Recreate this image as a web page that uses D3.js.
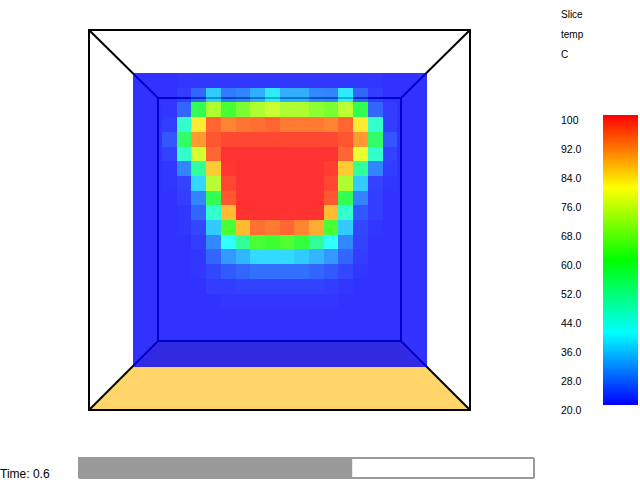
<!DOCTYPE html>
<html>
<head>
<meta charset="utf-8">
<title>Slice temp</title>
<script src="https://cdnjs.cloudflare.com/ajax/libs/d3/7.8.5/d3.min.js"></script>
<style>
html, body { margin: 0; padding: 0; background: #fff; overflow: hidden; }
svg { display: block; }
text { font-family: "Liberation Sans", sans-serif; fill: #000; }
</style>
</head>
<body>
<svg id="chart" width="640" height="480"></svg>
<script>
// slice values, one row per line, top to bottom
var sliceValues = [
  [20,20,20,20.4,20.5,20.5,20.5,20.5,20.5,20.5,20.5,20.5,20.5,20.5,20.5,20.5,20.4,20,20,20],
  [20,20,20,21,25,35,27,28,32,38,32,32,28.5,28,38,25,21,20,20,20],
  [20,20,20.5,25,57,72,62,67,72,75,72,72,69,67,73.5,57,25,21,20,20],
  [20,20,21,45,82,95,92,93.5,94,95,93,93,93,92,95,82,45,21,20,20],
  [20,20,23.5,55,90,96.5,98,98,98,98,98,98,98,98,96.5,90,55,23.5,20,20],
  [20,20,21.5,45,76,95,100,100,100,100,100,100,100,100,95,78,45,21.5,20,20],
  [20,20,20.5,28,50,85,99.5,100,100,100,100,100,100,99,85,50,28,21,20,20],
  [20,20,20.5,21.5,36,73,98,100,100,100,100,100,100,98,72,35,21.5,20.5,20,20],
  [20,20,20,21,28,57,96.5,100,100,100,100,100,100,96.5,57,28,21,20,20,20],
  [20,20,20,20.5,25,45,86.5,100,100,100,100,100,100,86.5,45,23.5,21,20,20,20],
  [20,20,20,20.5,22,35,62,86.5,94,93,95,92,88,62,35,22,20.5,20,20,20],
  [20,20,20,20,21,28.5,40,50,62,61,63,59,50,40,28.5,21.5,20,20,20,20],
  [20,20,20,20,20.5,25,30,33,36.5,36.5,36.5,35,33,30,25,21,20,20,20,20],
  [20,20,20,20,20.3,22,24,25,26,26,26,26,25,24,22,20.5,20,20,20,20],
  [20,20,20,20,20,21,21,21.5,21.5,21.5,21.5,21.5,21.5,21,20.5,20,20,20,20,20],
  [20,20,20,20,20,20,20.3,20.3,20.3,20.3,20.3,20.3,20.3,20.3,20,20,20,20,20,20],
  [20,20,20,20,20,20,20,20,20,20,20,20,20,20,20,20,20,20,20,20],
  [20,20,20,20,20,20,20,20,20,20,20,20,20,20,20,20,20,20,20,20],
  [20,20,20,20,20,20,20,20,20,20,20,20,20,20,20,20,20,20,20,20],
  [20,20,20,20,20,20,20,20,20,20,20,20,20,20,20,20,20,20,20,20]
];
var legendTicks = [100, 92, 84, 76, 68, 60, 52, 44, 36, 28, 20];
var legendTickLabels = ["100", "92.0", "84.0", "76.0", "68.0", "60.0", "52.0", "44.0", "36.0", "28.0", "20.0"];
var colorStops = [20, 40, 60, 80, 100];
var colorNames = ["#0000ff", "#00ffff", "#00ff00", "#ffff00", "#ff0000"];
var titleLines = ["Slice", "temp", "C"];
var timeValue = 0.6;

var svg = d3.select("#chart");

var color = d3.scaleLinear().domain(colorStops).range(colorNames);
var rowIdx = d3.range(sliceValues.length);
var colIdx = d3.range(sliceValues[0].length);
var x = d3.scaleBand().domain(colIdx).range([132.6, 426.6]);
var y = d3.scaleBand().domain(rowIdx).range([73, 367]);

// box: floor and back edges sit behind the slice
svg.append("polygon")
  .attr("points", "89,410 470,410 401,341 158,341")
  .attr("fill", "#ffd56b");

var back = svg.append("g").attr("stroke", "#000").attr("stroke-width", 2).attr("fill", "none");
back.append("rect").attr("x", 158).attr("y", 98).attr("width", 243).attr("height", 243);
[[89, 30, 158, 98], [470, 30, 401, 98], [89, 410, 158, 341], [470, 410, 401, 341]].forEach(function(l) {
  back.append("line").attr("x1", l[0]).attr("y1", l[1]).attr("x2", l[2]).attr("y2", l[3]);
});

// slice, flattened to cells
var cells = [];
sliceValues.forEach(function(row, r) {
  row.forEach(function(v, c) { cells.push({ r: r, c: c, v: v }); });
});

svg.append("g")
  .attr("opacity", 0.8)
  .attr("shape-rendering", "crispEdges")
  .selectAll("rect")
  .data(cells)
  .enter()
  .append("rect")
  .attr("x", function(d) { return x(d.c); })
  .attr("y", function(d) { return y(d.r); })
  .attr("width", function(d) { return d.c == colIdx.length - 1 ? x.bandwidth() : x.bandwidth() + 0.5; })
  .attr("height", function(d) { return d.r == rowIdx.length - 1 ? y.bandwidth() : y.bandwidth() + 0.5; })
  .attr("fill", function(d) { return color(d.v); });

// front frame
svg.append("rect")
  .attr("x", 89).attr("y", 30).attr("width", 381).attr("height", 380)
  .attr("fill", "none").attr("stroke", "#000").attr("stroke-width", 2);

// legend
var legendY = d3.scaleLinear().domain([20, 100]).range([405, 115]);
var grad = svg.append("defs").append("linearGradient")
  .attr("id", "legendGrad")
  .attr("x1", 0).attr("y1", 1).attr("x2", 0).attr("y2", 0);
grad.selectAll("stop")
  .data(colorStops)
  .enter()
  .append("stop")
  .attr("offset", function(d) { return (d - 20) / 80; })
  .attr("stop-color", function(d) { return color(d); });

svg.append("rect")
  .attr("x", 603).attr("y", legendY(100))
  .attr("width", 35).attr("height", legendY(20) - legendY(100))
  .attr("fill", "url(#legendGrad)");

svg.append("g")
  .selectAll("text")
  .data(legendTicks)
  .enter()
  .append("text")
  .attr("x", 561)
  .attr("y", function(d) { return legendY(d) + 9; })
  .attr("font-size", 10.5)
  .text(function(d, i) { return legendTickLabels[i]; });

svg.append("g")
  .selectAll("text")
  .data(titleLines)
  .enter()
  .append("text")
  .attr("x", 561)
  .attr("y", function(d, i) { return 18 + i * 20; })
  .attr("font-size", 10)
  .text(function(d) { return d; });

// time bar
var timeX = d3.scaleLinear().domain([0, 1]).range([78, 535]);
svg.append("rect")
  .attr("x", timeX(0) + 1).attr("y", 458)
  .attr("width", timeX(1) - timeX(0) - 2).attr("height", 20)
  .attr("rx", 1.5)
  .attr("fill", "#fff").attr("stroke", "#999").attr("stroke-width", 2);
svg.append("rect")
  .attr("x", timeX(0)).attr("y", 457)
  .attr("width", timeX(timeValue) - timeX(0)).attr("height", 21)
  .attr("fill", "#999");

svg.append("text")
  .attr("x", 0).attr("y", 477.5)
  .attr("font-size", 12)
  .text("Time: " + timeValue);
</script>
</body>
</html>
